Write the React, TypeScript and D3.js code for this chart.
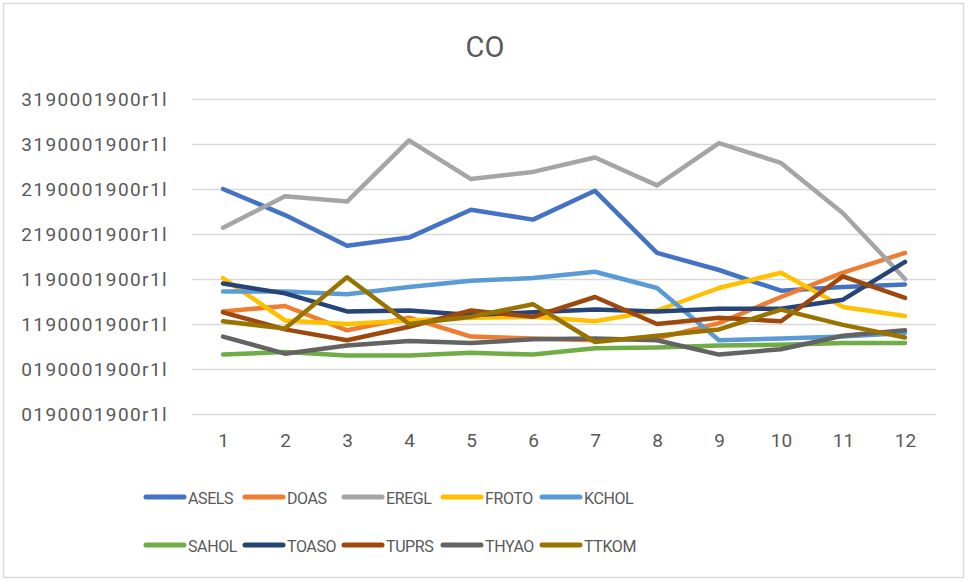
import React from "react";
import * as d3 from "d3";

// categories on the x axis
const months = ["1", "2", "3", "4", "5", "6", "7", "8", "9", "10", "11", "12"];

// y ticks and their (odd) labels as shown in the source chart
const yTicks = [0, 0.5, 1, 1.5, 2, 2.5, 3, 3.5];
const yTickLabels = [
  "0190001900r1l", "0190001900r1l", "1190001900r1l", "1190001900r1l",
  "2190001900r1l", "2190001900r1l", "3190001900r1l", "3190001900r1l",
];

const seriesNames = ["ASELS", "DOAS", "EREGL", "FROTO", "KCHOL", "SAHOL", "TOASO", "TUPRS", "THYAO", "TTKOM"];
const seriesColors = ["#4472C4", "#ED7D31", "#A5A5A5", "#FFC000", "#5B9BD5", "#70AD47", "#264478", "#9E480E", "#636363", "#997300"];

const asels = [2.5, 2.21, 1.87, 1.96, 2.27, 2.16, 2.48, 1.79, 1.6, 1.37, 1.41, 1.44];
const doas = [1.14, 1.2, 0.93, 1.07, 0.86, 0.84, 0.82, 0.84, 1.01, 1.3, 1.57, 1.79];
const eregl = [2.07, 2.42, 2.36, 3.04, 2.61, 2.69, 2.85, 2.54, 3.01, 2.79, 2.23, 1.5];
const froto = [1.51, 1.04, 1.0, 1.04, 1.07, 1.08, 1.03, 1.15, 1.4, 1.57, 1.19, 1.09];
const kchol = [1.36, 1.36, 1.33, 1.41, 1.48, 1.51, 1.58, 1.4, 0.82, 0.84, 0.86, 0.9];
const sahol = [0.66, 0.69, 0.65, 0.65, 0.68, 0.66, 0.73, 0.74, 0.76, 0.77, 0.79, 0.79];
const toaso = [1.45, 1.34, 1.14, 1.15, 1.1, 1.13, 1.16, 1.14, 1.17, 1.17, 1.27, 1.69];
const tuprs = [1.13, 0.94, 0.82, 0.97, 1.15, 1.08, 1.3, 1.0, 1.07, 1.03, 1.53, 1.29];
const thyao = [0.86, 0.67, 0.76, 0.81, 0.79, 0.83, 0.84, 0.82, 0.66, 0.72, 0.87, 0.93];
const ttkom = [1.03, 0.95, 1.52, 1.0, 1.08, 1.22, 0.8, 0.87, 0.94, 1.16, 0.99, 0.85];

const seriesValues = [asels, doas, eregl, froto, kchol, sahol, toaso, tuprs, thyao, ttkom];

const W = 973;
const H = 582;
const FONT = "Roboto, 'Open Sans', sans-serif";
const TEXT = "#595959";

const App = () => {
  const svgRef = React.useRef<SVGSVGElement>(null);

  React.useEffect(() => {
    const svg = d3.select(svgRef.current);
    svg.selectAll("*").remove();

    const plot = { left: 192, right: 936, top: 99, bottom: 414 };

    const x = d3.scalePoint<string>().domain(months).range([plot.left, plot.right]).padding(0.5);
    const y = d3.scaleLinear().domain([0, 3.5]).range([plot.bottom, plot.top]);

    // chart frame
    svg.append("rect")
      .attr("x", 3.5).attr("y", 3.5)
      .attr("width", 960).attr("height", 574)
      .attr("fill", "#fff")
      .attr("stroke", "#D9D9D9")
      .attr("stroke-width", 1.5);

    svg.append("text")
      .attr("x", 485).attr("y", 57)
      .attr("text-anchor", "middle")
      .attr("font-family", FONT)
      .attr("font-size", 29)
      .attr("fill", TEXT)
      .text("CO");

    // Y grid + labels
    const yAxis = d3.axisLeft(y)
      .tickValues(yTicks)
      .tickSize(-(plot.right - plot.left))
      .tickPadding(24)
      .tickFormat((_, i) => yTickLabels[i]);
    const yg = svg.append("g").attr("transform", `translate(${plot.left},0)`).call(yAxis);
    yg.select(".domain").remove();
    yg.selectAll("line").attr("stroke", "#D9D9D9").attr("stroke-width", 1.5);
    yg.selectAll("text")
      .attr("font-family", FONT)
      .attr("font-size", 19)
      .attr("letter-spacing", 1.4)
      .attr("fill", TEXT);

    // X labels
    const xAxis = d3.axisBottom(x).tickSize(0).tickPadding(20);
    const xg = svg.append("g").attr("transform", `translate(0,${plot.bottom})`).call(xAxis);
    xg.select(".domain").remove();
    xg.selectAll("text")
      .attr("font-family", FONT)
      .attr("font-size", 19)
      .attr("fill", TEXT);

    // lines
    const line = d3.line<number>()
      .x((_, i) => x(months[i]) as number)
      .y((d) => y(d));
    svg.append("g")
      .selectAll("path")
      .data(seriesValues)
      .enter()
      .append("path")
      .attr("fill", "none")
      .attr("stroke", (_, i) => seriesColors[i])
      .attr("stroke-width", 4.5)
      .attr("stroke-linejoin", "round")
      .attr("stroke-linecap", "round")
      .attr("d", (d) => line(d));

    // legend, two rows of five
    const legend = svg.append("g");
    seriesNames.forEach((name, i) => {
      const col = i % 5;
      const row = Math.floor(i / 5);
      const lx = 146 + col * 99;
      const ly = 497 + row * 48;
      legend.append("line")
        .attr("x1", lx).attr("x2", lx + 38)
        .attr("y1", ly).attr("y2", ly)
        .attr("stroke", seriesColors[i])
        .attr("stroke-width", 5)
        .attr("stroke-linecap", "round");
      legend.append("text")
        .attr("x", lx + 42).attr("y", ly + 7)
        .attr("font-family", FONT)
        .attr("font-size", 16)
        .attr("letter-spacing", -0.4)
        .attr("fill", TEXT)
        .text(name);
    });
  }, []);

  return (
    <svg
      ref={svgRef}
      width={W}
      height={H}
      style={{ position: "absolute", left: 0, top: 0, background: "#fff" }}
    />
  );
};

export default App;
